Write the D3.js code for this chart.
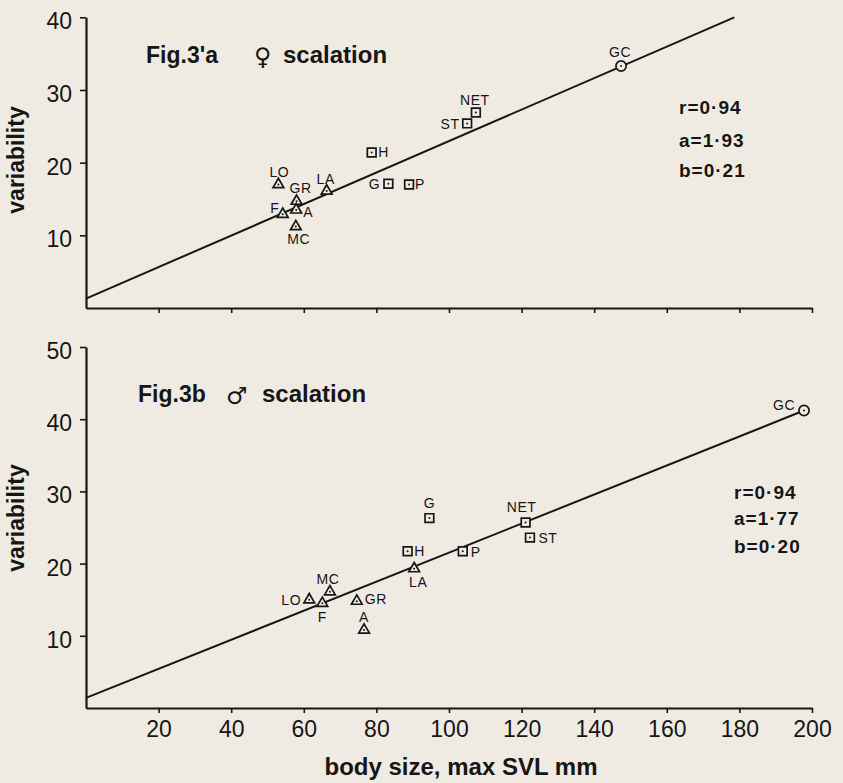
<!DOCTYPE html>
<html>
<head>
<meta charset="utf-8">
<script src="https://cdn.jsdelivr.net/npm/d3@7"></script>
<style>
  html, body { margin: 0; padding: 0; background: #efebe2; }
  svg { display: block; }
  text { fill: #161616; font-family: 'Liberation Sans', Arial, sans-serif; }
</style>
</head>
<body>
<div id="chart"></div>
<script>
// species codes, in the same order for both sexes
const species = ['LO', 'GR', 'A', 'F', 'MC', 'LA', 'H', 'G', 'P', 'NET', 'ST', 'GC'];
const markerKind = ['tri', 'tri', 'tri', 'tri', 'tri', 'tri', 'sq', 'sq', 'sq', 'sq', 'sq', 'circ'];

// females (Fig. 3a)
const femaleSVL = [53.0, 58.0, 57.9, 54.2, 57.8, 66.3, 78.7, 83.3, 89.0, 107.4, 105.0, 147.4];
const femaleVar = [17.0, 14.7, 13.5, 12.9, 11.2, 16.1, 21.4, 17.1, 17.0, 26.9, 25.4, 33.3];
const femaleFitX = [0, 178.6];
const femaleFitY = [1.3, 40];
const femaleStats = ['r=0·94', 'a=1·93', 'b=0·21'];

// males (Fig. 3b)
const maleSVL = [61.5, 74.6, 76.6, 65.1, 67.2, 90.4, 88.6, 94.6, 103.8, 121.1, 122.3, 197.8];
const maleVar = [15.0, 14.8, 10.8, 14.5, 16.1, 19.3, 21.7, 26.3, 21.7, 25.7, 23.6, 41.2];
const maleFitX = [0, 197.8];
const maleFitY = [1.4, 41.2];
const maleStats = ['r=0·94', 'a=1·77', 'b=0·20'];

const xTicks = [20, 40, 60, 80, 100, 120, 140, 160, 180, 200];
const femaleYTicks = [10, 20, 30, 40];
const maleYTicks = [10, 20, 30, 40, 50];

// label offsets from the marker centre, px
const femaleLabelPos = {
  LO: [1, -12], GR: [4, -13], A: [12, 2], F: [-8, -6], MC: [3, 12], LA: [-1, -12],
  H: [12, 0], G: [-14, 0], P: [11, 0], NET: [-1, -13], ST: [-17, 1], GC: [-1, -14]
};
const maleLabelPos = {
  LO: [-18, 0], GR: [19, -2], A: [0, -13], F: [0, 14], MC: [-2, -13], LA: [4, 13],
  H: [12, 0], G: [0, -15], P: [13, 1], NET: [-4, -15], ST: [18, 0], GC: [-20, -6]
};

const ink = '#161616';
const W = 843, H = 783;

const svg = d3.select('#chart').append('svg')
  .attr('width', W)
  .attr('height', H);

const x = d3.scaleLinear().domain([0, 200]).range([86, 812]);

const panels = [
  {
    svl: femaleSVL, vari: femaleVar, fitX: femaleFitX, fitY: femaleFitY,
    stats: femaleStats, yTicks: femaleYTicks, yMax: 40, y0: 308, yTop: 17.3,
    labelPos: femaleLabelPos, showX: false,
    title: 'Fig.3ʹa', titleX: 146, titleY: 63, sex: '♀', sexX: 254, nameX: 283,
    statX: 679, statY: [114, 147, 177], varCenter: 160
  },
  {
    svl: maleSVL, vari: maleVar, fitX: maleFitX, fitY: maleFitY,
    stats: maleStats, yTicks: maleYTicks, yMax: 50, y0: 708, yTop: 347,
    labelPos: maleLabelPos, showX: true,
    title: 'Fig.3b', titleX: 138, titleY: 402, sex: '♂', sexX: 226, nameX: 262,
    statX: 734, statY: [499, 525, 553], varCenter: 518
  }
];

const symbolType = { tri: d3.symbolTriangle, sq: d3.symbolSquare, circ: d3.symbolCircle };
const symbolSize = { tri: 50, sq: 76, circ: 82 };

panels.forEach(p => {
  const y = d3.scaleLinear().domain([0, p.yMax]).range([p.y0, p.yTop]);
  const g = svg.append('g');

  // x axis
  const xAxis = g.append('g')
    .attr('transform', `translate(0,${p.y0})`)
    .call(d3.axisBottom(x)
      .tickValues(xTicks)
      .tickSize(5)
      .tickSizeOuter(0)
      .tickPadding(8)
      .tickFormat(p.showX ? d3.format('d') : ''));

  // y axis
  const yAxis = g.append('g')
    .attr('transform', `translate(${x(0)},0)`)
    .call(d3.axisLeft(y)
      .tickValues(p.yTicks)
      .tickSize(6)
      .tickSizeOuter(0)
      .tickPadding(8));

  [xAxis, yAxis].forEach(ax => {
    ax.select('.domain').attr('stroke', ink).attr('stroke-width', 2.2);
    ax.selectAll('.tick line').attr('stroke', ink).attr('stroke-width', 1.6);
    ax.selectAll('.tick text')
      .style('font-family', "'Liberation Sans', Arial, sans-serif")
      .style('font-size', '23px')
      .attr('fill', ink);
  });
  yAxis.selectAll('.tick text').attr('dy', '0.5em');

  // fitted line
  g.append('path')
    .datum(d3.zip(p.fitX, p.fitY))
    .attr('d', d3.line().x(d => x(d[0])).y(d => y(d[1])))
    .attr('fill', 'none')
    .attr('stroke', ink)
    .attr('stroke-width', 2);

  const pts = species.map((s, i) => ({
    name: s, kind: markerKind[i], sx: p.svl[i], vy: p.vari[i]
  }));

  const mk = g.append('g').selectAll('g')
    .data(pts)
    .join('g')
    .attr('transform', d => `translate(${x(d.sx)},${y(d.vy)})`);

  mk.append('path')
    .attr('d', d => d3.symbol().type(symbolType[d.kind]).size(symbolSize[d.kind])())
    .attr('fill', '#efebe2')
    .attr('stroke', ink)
    .attr('stroke-width', 1.7);

  mk.append('circle')
    .attr('r', 1)
    .attr('fill', ink);

  mk.append('text')
    .attr('x', d => p.labelPos[d.name][0])
    .attr('y', d => p.labelPos[d.name][1])
    .attr('text-anchor', 'middle')
    .attr('dominant-baseline', 'central')
    .style('font-size', '14px')
    .style('letter-spacing', '0.6px')
    .text(d => d.name);

  // titles
  g.append('text')
    .attr('x', p.titleX)
    .attr('y', p.titleY)
    .style('font-size', '23px')
    .style('font-weight', 'bold')
    .text(p.title);

  g.append('text')
    .attr('x', p.sexX)
    .attr('y', p.titleY + 2)
    .style('font-family', "'DejaVu Sans', sans-serif")
    .style('font-size', '24px')
    .text(p.sex);

  g.append('text')
    .attr('x', p.nameX)
    .attr('y', p.titleY)
    .style('font-size', '24px')
    .style('font-weight', 'bold')
    .text('scalation');

  // r, a, b
  g.append('g').selectAll('text')
    .data(p.stats)
    .join('text')
    .attr('x', p.statX)
    .attr('y', (d, i) => p.statY[i])
    .style('font-size', '19px')
    .style('font-weight', 'bold')
    .style('letter-spacing', '1px')
    .text(d => d);

  // y title
  g.append('text')
    .attr('transform', `translate(24,${p.varCenter}) rotate(-90)`)
    .attr('text-anchor', 'middle')
    .style('font-size', '23px')
    .style('font-weight', 'bold')
    .text('variability');
});

svg.append('text')
  .attr('x', (x(0) + x(200)) / 2 + 12)
  .attr('y', 775)
  .attr('text-anchor', 'middle')
  .style('font-size', '24px')
  .style('font-weight', 'bold')
  .text('body size, max SVL mm');
</script>
</body>
</html>
